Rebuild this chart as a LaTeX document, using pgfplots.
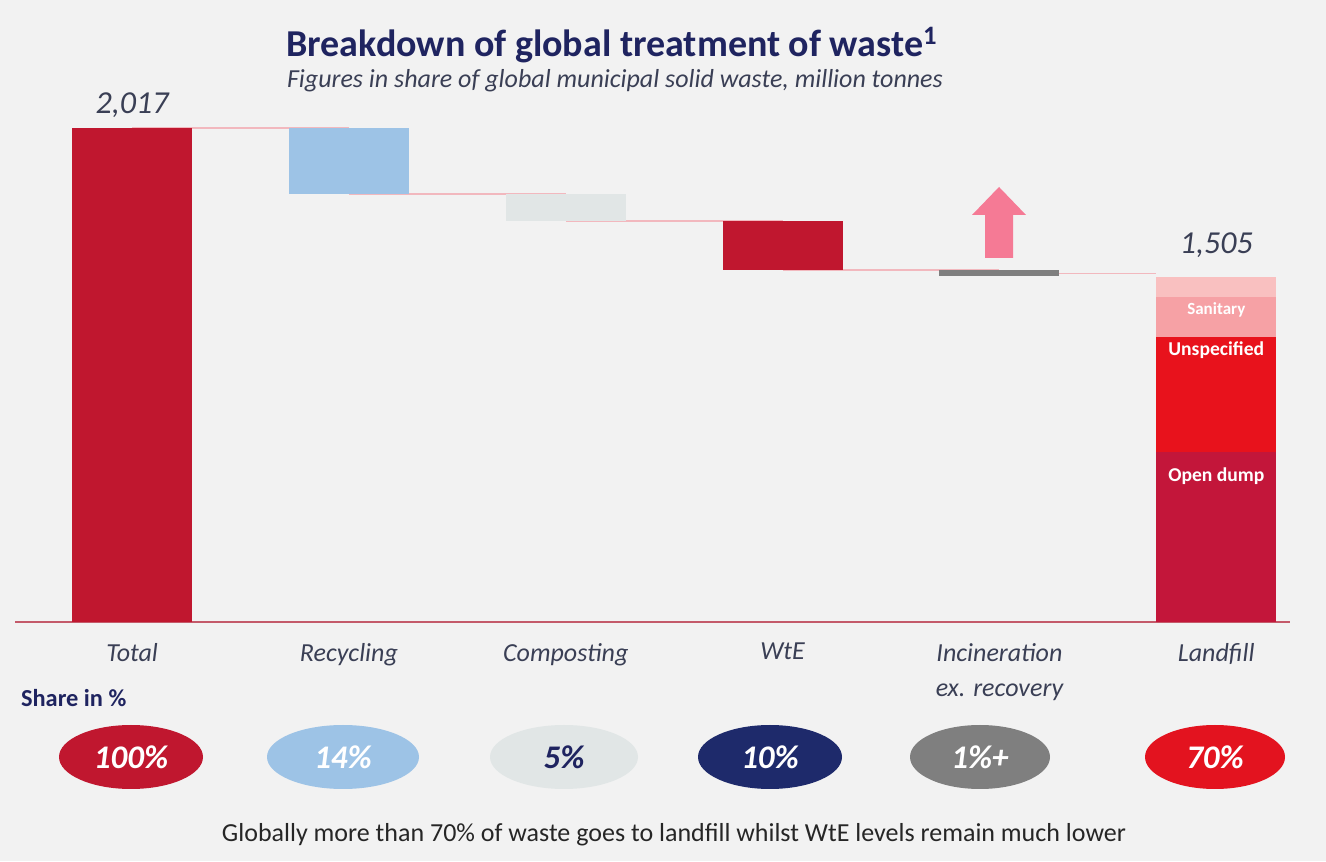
\documentclass[border=0pt]{standalone}
\usepackage{pgfplots}
\pgfplotsset{compat=1.18}
\usepackage{fontspec}
\setmainfont{Carlito}
\definecolor{bg}{HTML}{F2F2F2}
\definecolor{navy}{HTML}{1F2460}
\definecolor{labtxt}{HTML}{3A3F55}
\definecolor{totred}{HTML}{C0172F}
\definecolor{recblue}{HTML}{9DC3E6}
\definecolor{compgray}{HTML}{E1E6E6}
\definecolor{incgray}{HTML}{7F7F7F}
\definecolor{opendump}{HTML}{C3163A}
\definecolor{unspec}{HTML}{E8121C}
\definecolor{sanit}{HTML}{F6A1A5}
\definecolor{sanittop}{HTML}{F9C0C0}
\definecolor{connect}{HTML}{F2B8BE}
\definecolor{baseline}{HTML}{C45A6A}
\definecolor{arrowpink}{HTML}{F57A95}
\definecolor{ellnavy}{HTML}{1E2A6B}
\definecolor{ellred}{HTML}{E3131F}

\pgfplotsset{
  wfaxis/.style={
    at={(7.5pt,119.5pt)}, anchor=south west,
    scale only axis, width=637.5pt, height=261pt,
    xmin=-0.54, xmax=5.34, ymin=0, ymax=2131,
    clip=false,
  }
}

\begin{document}
\begin{tikzpicture}
\fill[bg] (0,0) rectangle (663pt,430.5pt);
\useasboundingbox (0,0) rectangle (663pt,430.5pt);

% connector lines (behind the bars)
\begin{axis}[wfaxis, hide axis]
\addplot[connect, line width=0.6pt] coordinates {(0,2017) (1,2017)};
\addplot[connect, line width=0.6pt] coordinates {(1,1747) (2,1747)};
\addplot[connect, line width=0.6pt] coordinates {(2,1637) (3,1637)};
\addplot[connect, line width=0.6pt] coordinates {(3,1437) (4,1437)};
\addplot[connect, line width=0.6pt] coordinates {(4,1423) (4.72,1423)};
\end{axis}

\begin{axis}[wfaxis,
  ybar stacked, bar width=60pt,
  axis y line=none, axis x line=bottom,
  x axis line style={-, draw=baseline, line width=0.6pt},
  major tick length=0pt,
  xtick={0,1,2,3,4,5},
  xticklabels={Total,Recycling,Composting,WtE,{Incineration\\ex. recovery},Landfill},
  xticklabel style={align=center, text=labtxt, yshift=-7pt,
    font=\fontsize{13}{17.5}\selectfont\itshape},
]
% invisible base
\addplot[draw=none, fill=none] coordinates {(0,0) (1,1747) (2,1637) (3,1437) (4,1413) (5,0)};
% Total
\addplot[draw=none, fill=totred] coordinates {(0,2017) (1,0) (2,0) (3,0) (4,0) (5,0)};
% Recycling
\addplot[draw=none, fill=recblue] coordinates {(0,0) (1,270) (2,0) (3,0) (4,0) (5,0)};
% Composting
\addplot[draw=none, fill=compgray] coordinates {(0,0) (1,0) (2,110) (3,0) (4,0) (5,0)};
% WtE
\addplot[draw=none, fill=totred] coordinates {(0,0) (1,0) (2,0) (3,200) (4,0) (5,0)};
% Incineration ex. recovery
\addplot[draw=none, fill=incgray] coordinates {(0,0) (1,0) (2,0) (3,0) (4,22) (5,0)};
% Landfill: open dump, unspecified, sanitary
\addplot[draw=none, fill=opendump] coordinates {(0,0) (1,0) (2,0) (3,0) (4,0) (5,694)};
\addplot[draw=none, fill=unspec] coordinates {(0,0) (1,0) (2,0) (3,0) (4,0) (5,470)};
\addplot[draw=none, fill=sanit] coordinates {(0,0) (1,0) (2,0) (3,0) (4,0) (5,163)};
\addplot[draw=none, fill=sanittop] coordinates {(0,0) (1,0) (2,0) (3,0) (4,0) (5,82)};
\end{axis}

% value labels on top of the bars
\begin{axis}[wfaxis, hide axis]
\node[text=labtxt, font=\fontsize{16}{18}\selectfont\itshape] at (axis cs:0,2111) {2,017};
\node[text=labtxt, font=\fontsize{16}{18}\selectfont\itshape] at (axis cs:5,1539) {1,505};
\node[text=white, font=\fontsize{8.5}{10}\selectfont\bfseries] at (axis cs:5,1274) {Sanitary};
\node[text=white, font=\fontsize{9.8}{11}\selectfont\bfseries] at (axis cs:5,1110) {Unspecified};
\node[text=white, font=\fontsize{9.8}{11}\selectfont\bfseries] at (axis cs:5,596) {Open dump};
\end{axis}

% annotations in pixel units (1px = 0.5pt, y from bottom)
\begin{scope}[x=0.5pt,y=0.5pt]
\node[text=navy, font=\fontsize{19}{22}\selectfont\bfseries] at (612,816) {Breakdown of global treatment of waste\textsuperscript{1}};
\node[text=labtxt, font=\fontsize{13}{15}\selectfont\itshape] at (615,780) {Figures in share of global municipal solid waste, million tonnes};
% arrow
\fill[arrowpink] (985,603) -- (1013,603) -- (1013,646) -- (1026,646) -- (999,674) -- (972,646) -- (985,646) -- cycle;
\node[anchor=west, text=navy, font=\fontsize{12.2}{14}\selectfont\bfseries] at (14,163) {Share in \%};
\fill[totred] (131,104) ellipse [x radius=72, y radius=32];
\fill[recblue] (343,104) ellipse [x radius=76, y radius=32];
\fill[compgray] (564,104) ellipse [x radius=74, y radius=32];
\fill[ellnavy] (770,104) ellipse [x radius=72, y radius=32];
\fill[incgray] (980,104) ellipse [x radius=70, y radius=32];
\fill[ellred] (1215,104) ellipse [x radius=70, y radius=32];
\begin{scope}[font=\fontsize{16.5}{18}\selectfont\bfseries\itshape]
\node[text=white] at (131,104) {100\%};
\node[text=white] at (343,104) {14\%};
\node[text=navy] at (564,104) {5\%};
\node[text=white] at (770,104) {10\%};
\node[text=white] at (980,104) {1\%+};
\node[text=white] at (1215,104) {70\%};
\end{scope}
\node[text=black!85, font=\fontsize{13}{15}\selectfont] at (674,26) {Globally more than 70\% of waste goes to landfill whilst WtE levels remain much lower};
\end{scope}
\end{tikzpicture}
\end{document}
